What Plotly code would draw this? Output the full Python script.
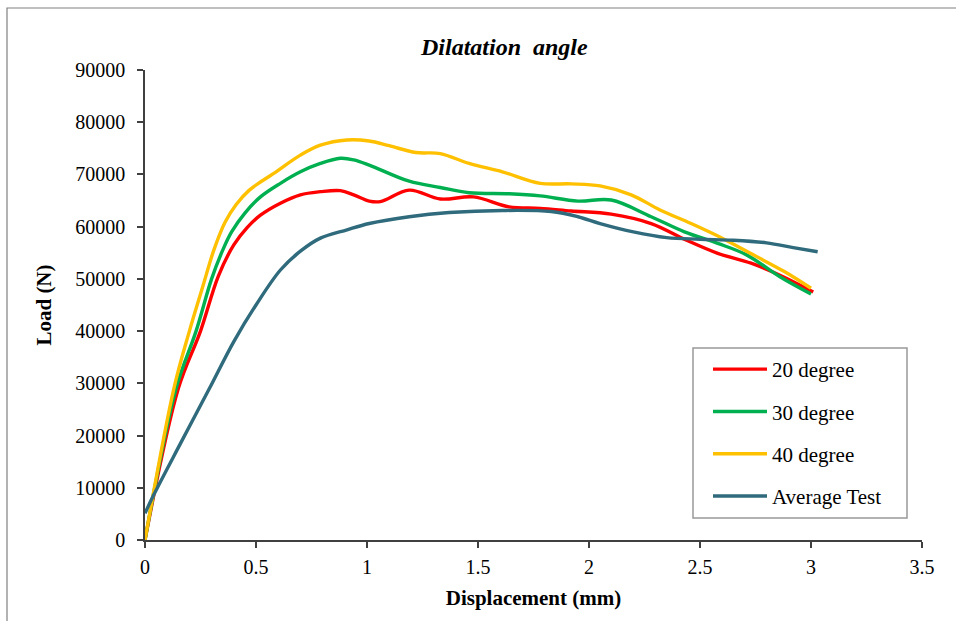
import plotly.graph_objects as go

# Data
x20 = [0, 0.15, 0.25, 0.33, 0.40, 0.46, 0.52, 0.61, 0.70, 0.79, 0.88, 0.94, 1.01, 1.06, 1.19, 1.33, 1.48, 1.64, 1.78, 1.92, 2.10, 2.28, 2.44, 2.58, 2.73, 2.86, 3.01]
y20 = [0, 29000, 40000, 50500, 56500, 59800, 62200, 64500, 66100, 66700, 66900, 66100, 64900, 64800, 67000, 65300, 65700, 63800, 63500, 63000, 62400, 60600, 57400, 54900, 53000, 50700, 47500]

x30 = [0, 0.14, 0.23, 0.30, 0.35, 0.39, 0.45, 0.52, 0.61, 0.70, 0.79, 0.88, 0.94, 1.01, 1.19, 1.33, 1.46, 1.64, 1.78, 1.95, 2.10, 2.28, 2.43, 2.58, 2.71, 2.86, 3.00]
y30 = [0, 29000, 40000, 50000, 55500, 59000, 62600, 65700, 68300, 70500, 72100, 73100, 72800, 71800, 68700, 67500, 66500, 66300, 65900, 64900, 65100, 61900, 59000, 56800, 54600, 50400, 47100]

x40 = [0, 0.13, 0.20, 0.26, 0.31, 0.36, 0.41, 0.47, 0.58, 0.70, 0.79, 0.91, 1.01, 1.10, 1.22, 1.33, 1.46, 1.61, 1.78, 1.92, 2.05, 2.19, 2.32, 2.46, 2.60, 2.74, 2.88, 3.00]
y40 = [0, 29000, 40000, 48500, 55500, 60800, 64200, 67000, 70200, 73700, 75600, 76600, 76400, 75500, 74200, 74000, 72100, 70500, 68300, 68200, 67800, 66100, 63200, 60600, 57800, 54600, 51400, 48200]

xavg = [0, 0.04, 0.16, 0.29, 0.40, 0.50, 0.61, 0.70, 0.79, 0.91, 1.01, 1.19, 1.37, 1.61, 1.83, 1.95, 2.05, 2.20, 2.35, 2.50, 2.65, 2.80, 2.92, 3.03]
yavg = [5100, 8700, 18500, 29000, 38000, 45000, 51700, 55300, 57800, 59400, 60600, 61900, 62700, 63100, 62900, 61900, 60600, 59000, 57900, 57600, 57400, 56900, 56000, 55200]

x_ticks = [0, 0.5, 1, 1.5, 2, 2.5, 3, 3.5]
y_ticks = [0, 10000, 20000, 30000, 40000, 50000, 60000, 70000, 80000, 90000]

series = [
    ("20 degree", x20, y20, "#FF0000"),
    ("30 degree", x30, y30, "#00B050"),
    ("40 degree", x40, y40, "#FFC000"),
    ("Average Test", xavg, yavg, "#2F6B7C"),
]

FONT = "Liberation Serif, Times New Roman, serif"

# plot-area pixel geometry helpers (plot area: x 145..922, y 70..540)
def px(xp):
    return (xp - 145) / 777

def py(yp):
    return (540 - yp) / 470

fig = go.Figure()
for i, (name, xs, ys, col) in enumerate(series):
    fig.add_trace(go.Scatter(
        x=xs, y=ys, name=name, mode="lines",
        line=dict(color=col, width=3.4, shape="spline", smoothing=1.0),
        legendgroup=f"g{i}",
    ))

fig.update_layout(
    width=956, height=621,
    margin=dict(l=145, r=34, t=70, b=81),
    paper_bgcolor="white", plot_bgcolor="white",
    font=dict(family=FONT, size=20, color="black"),
    showlegend=True,
    legend=dict(
        x=px(708), y=py(349), xanchor="left", yanchor="top",
        borderwidth=0, bgcolor="rgba(0,0,0,0)",
        font=dict(family=FONT, size=21, color="black"),
        tracegroupgap=12, itemwidth=54,
    ),
    xaxis=dict(
        range=[0, 3.5], tickvals=x_ticks, ticktext=[str(v) for v in x_ticks],
        showline=True, linecolor="#404040", linewidth=1.5,
        ticks="outside", ticklen=6, tickcolor="#404040", tickwidth=1.5,
        showgrid=False, zeroline=False, ticklabelstandoff=2,
        tickfont=dict(family=FONT, size=20),
        title=dict(text="<b>Displacement (mm)</b>", font=dict(family=FONT, size=21), standoff=14),
    ),
    yaxis=dict(
        range=[0, 90000], tickvals=y_ticks, ticktext=[str(v) for v in y_ticks],
        showline=True, linecolor="#404040", linewidth=1.5,
        ticks="outside", ticklen=6, tickcolor="#404040", tickwidth=1.5,
        showgrid=False, zeroline=False, ticklabelstandoff=8,
        tickfont=dict(family=FONT, size=20),
        title=dict(text="<b>Load (N)</b>", font=dict(family=FONT, size=21), standoff=18),
    ),
    shapes=[
        dict(
            type="rect", xref="paper", yref="paper",
            x0=px(7), x1=px(962), y0=py(630), y1=py(8),
            line=dict(color="#808080", width=1.2), fillcolor="rgba(0,0,0,0)", layer="below",
        ),
        dict(
            type="rect", xref="paper", yref="paper",
            x0=px(693), x1=px(907), y0=py(518), y1=py(348),
            line=dict(color="#999999", width=1.5), fillcolor="white", layer="above",
        ),
    ],
    annotations=[dict(
        text="<b><i>Dilatation  angle</i></b>", xref="paper", yref="paper",
        x=px(504), y=py(47), xanchor="center", yanchor="middle",
        showarrow=False, font=dict(family=FONT, size=24, color="black"),
    )],
)

fig.write_html("out.html")
